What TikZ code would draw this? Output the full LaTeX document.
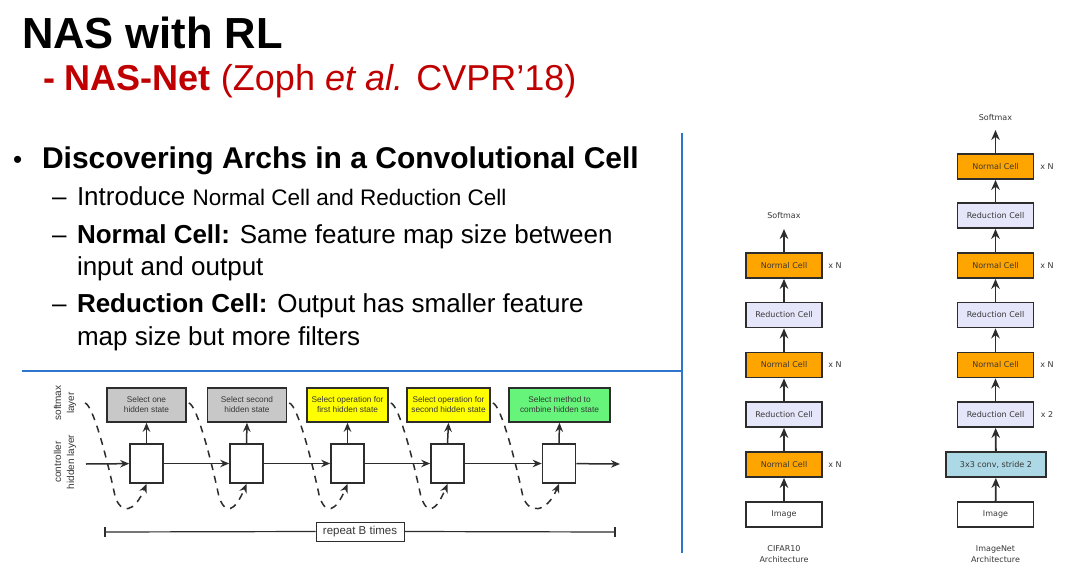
\documentclass[tikz,border=0pt]{standalone}
\usepackage{fontspec}
\setmainfont{Liberation Sans}
\newfontfamily\dejavu{DejaVu Sans}
\usetikzlibrary{arrows.meta,calc}
\definecolor{slideblue}{RGB}{46,117,204}
\definecolor{nasred}{RGB}{192,0,0}
\definecolor{boxgray}{RGB}{200,200,200}
\definecolor{boxyellow}{RGB}{255,255,0}
\definecolor{boxgreen}{RGB}{102,245,122}
\definecolor{normalorange}{RGB}{255,165,0}
\definecolor{redlav}{RGB}{230,230,250}
\definecolor{convblue}{RGB}{173,216,230}
\definecolor{darkline}{RGB}{45,45,45}
\definecolor{txtgray}{RGB}{55,55,55}
\begin{document}
\begin{tikzpicture}[x=1pt,y=-1pt,
  txt/.style={anchor=base west,inner sep=0pt,outer sep=0pt},
  topbox/.style={draw=darkline,line width=1.6pt,minimum height=34pt,inner sep=1pt,align=center,
     font=\fontsize{8.3}{10}\selectfont,text=txtgray},
  hidbox/.style={draw=darkline,line width=1.6pt,fill=white,minimum width=33pt,minimum height=39pt,inner sep=0pt},
  carr/.style={line width=1.5pt,draw=darkline,-{Stealth[length=9pt,width=7.5pt]}},
  dcurve/.style={line width=1.5pt,draw=darkline,dash pattern=on 7pt off 6pt,-{Stealth[length=9pt,width=7.5pt]}},
  rotlab/.style={rotate=90,align=center,font=\fontsize{10}{13}\selectfont,text=txtgray,inner sep=0pt},
  cell/.style={draw=darkline,line width=1.8pt,minimum width=76pt,minimum height=25pt,inner sep=0pt,
     font=\dejavu\fontsize{8}{9}\selectfont,text=txtgray},
  ncell/.style={cell,fill=normalorange},
  rcell/.style={cell,fill=redlav},
  icell/.style={cell,fill=white},
  rarr/.style={line width=1.8pt,draw=darkline,-{Stealth[length=10pt,width=8.5pt]}},
  small/.style={font=\dejavu\fontsize{8}{9}\selectfont,text=txtgray,inner sep=0pt},
  blueline/.style={draw=slideblue,line width=2.4pt}
]
\useasboundingbox[fill=white] (0,0) rectangle (1080,573);

% ---------- title and text ----------
\node[txt,font=\fontsize{43.5}{50}\selectfont\bfseries] (title) at (22,48) {NAS with RL};
\node[txt,text=nasred,font=\fontsize{36}{42}\selectfont] (subtitle) at (43,90)
  {\textbf{- NAS-Net} (Zoph \textit{et al.} CVPR’18)};

\node[txt,font=\fontsize{26}{30}\selectfont] (bul) at (13,168) {•};
\node[txt,font=\fontsize{30}{34}\selectfont\bfseries] (b1) at (42,168) {Discovering Archs in a Convolutional Cell};

\node[txt,font=\fontsize{26}{30}\selectfont] (d1) at (52,205) {–};
\node[txt,font=\fontsize{26}{30}\selectfont] (s1) at (77,205) {Introduce {\fontsize{22.5}{26}\selectfont Normal Cell and Reduction Cell}};
\node[txt,font=\fontsize{26}{30}\selectfont] (d2) at (52,243) {–};
\node[txt,font=\fontsize{26}{30}\selectfont] (s2) at (77,243) {\textbf{Normal Cell:} Same feature map size between};
\node[txt,font=\fontsize{26}{30}\selectfont] (s2b) at (77,275) {input and output};
\node[txt,font=\fontsize{26}{30}\selectfont] (d3) at (52,312) {–};
\node[txt,font=\fontsize{26}{30}\selectfont] (s3) at (77,312) {\textbf{Reduction Cell:} Output has smaller feature};
\node[txt,font=\fontsize{26}{30}\selectfont] (s3b) at (77,345) {map size but more filters};

% ---------- separator lines ----------
\coordinate (hl) at (22,371);
\coordinate (hr) at (682,371);
\coordinate (vt) at (682,133);
\coordinate (vb) at (682,553);
\draw[blueline] (hl) -- (hr);
\draw[blueline] (vt) -- (vb);

% ---------- controller RNN diagram ----------
\node[rotlab] (lab1) at (65,403) {softmax\\layer};
\node[rotlab] (lab2) at (65,462) {controller\\hidden layer};

\node[topbox,fill=boxgray,minimum width=79pt] (t1) at (146.5,405) {Select one\\hidden state};
\node[topbox,fill=boxgray,minimum width=79pt] (t2) at (247,405) {Select second\\hidden state};
\node[topbox,fill=boxyellow,minimum width=81pt] (t3) at (347.5,405) {Select operation for\\first hidden state};
\node[topbox,fill=boxyellow,minimum width=83pt] (t4) at (448.5,405) {Select operation for\\second hidden state};
\node[topbox,fill=boxgreen,minimum width=101pt] (t5) at (559.5,405) {Select method to\\combine hidden state};

\node[hidbox] (h1) at (146.5,463.5) {};
\node[hidbox] (h2) at (246.5,463.5) {};
\node[hidbox] (h3) at (347.5,463.5) {};
\node[hidbox] (h4) at (447.5,463.5) {};
\node[hidbox] (h5) at (559,463.5) {};

\coordinate (in) at (86,464);
\coordinate (out) at (620,464);
\draw[carr] (in) -- (h1);
\draw[carr] (h1) -- (h2);
\draw[carr] (h2) -- (h3);
\draw[carr] (h3) -- (h4);
\draw[carr] (h4) -- (h5);
\draw[carr] (h5) -- (out);

\foreach \i in {1,...,5} {
  \draw[carr] (h\i.north) -- (t\i.south);
}

% dashed feedback curves
\coordinate (s1) at (85,403);
\coordinate (s2) at ($(t1.east)+(2,-2)$);
\coordinate (s3) at ($(t2.east)+(2,-2)$);
\coordinate (s4) at ($(t3.east)+(2,-2)$);
\coordinate (s5) at ($(t4.east)+(2,-2)$);
\foreach \i in {1,...,5} {
  \draw[dcurve] let \p1=(s\i), \p2=(h\i.south) in
    (s\i) .. controls (\x1+8,\y1-2) and (\x1+22,\y1-55) .. (\x1+30,\y1-93)
          .. controls (\x1+36,\y1-112) and (\x2-12,\y2-29) .. (h\i.south);
}

% repeat B times
\coordinate (rl) at (105,532);
\coordinate (rr) at (615,532);
\node[draw=darkline,line width=1pt,fill=white,minimum width=88pt,minimum height=19pt,inner sep=0pt,
  font=\fontsize{11.5}{13}\selectfont,text=txtgray] (rep) at (360,531.5) {repeat B times};
\draw[line width=1.2pt,draw=darkline] (rl) -- (rep.west);
\draw[line width=1.2pt,draw=darkline] (rep.east) -- (rr);
\draw[line width=1.2pt,draw=darkline] ($(rl)+(0,-5)$) -- ($(rl)+(0,5)$);
\draw[line width=1.2pt,draw=darkline] ($(rr)+(0,-5)$) -- ($(rr)+(0,5)$);

% ---------- CIFAR10 architecture ----------
\node[icell] (cimg) at (784,514.5) {Image};
\node[ncell] (cn1) at (784,464.5) {Normal Cell};
\node[rcell] (cr1) at (784,414.5) {Reduction Cell};
\node[ncell] (cn2) at (784,365) {Normal Cell};
\node[rcell] (cr2) at (784,315) {Reduction Cell};
\node[ncell] (cn3) at (784,265.5) {Normal Cell};
\node[small] (csoft) at (784,216) {Softmax};
\coordinate (csoftb) at (784,229);
\draw[rarr] (cimg) -- (cn1);
\draw[rarr] (cn1) -- (cr1);
\draw[rarr] (cr1) -- (cn2);
\draw[rarr] (cn2) -- (cr2);
\draw[rarr] (cr2) -- (cn3);
\draw[rarr] (cn3) -- (csoftb);
\node[small] (cx1) at (835,265.5) {x N};
\node[small] (cx2) at (835,365) {x N};
\node[small] (cx3) at (835,464.5) {x N};
\node[small,align=center,font=\dejavu\fontsize{8}{10.5}\selectfont] (ccap) at (784,554) {CIFAR10\\Architecture};

% ---------- ImageNet architecture ----------
\node[icell] (iimg) at (995.5,514.5) {Image};
\node[cell,fill=convblue,minimum width=100pt] (iconv) at (996,464.5) {3x3 conv, stride 2};
\node[rcell] (ir1) at (995.5,414.5) {Reduction Cell};
\node[ncell] (in1) at (995.5,365) {Normal Cell};
\node[rcell] (ir2) at (995.5,315) {Reduction Cell};
\node[ncell] (in2) at (995.5,265.5) {Normal Cell};
\node[rcell] (ir3) at (995.5,215.5) {Reduction Cell};
\node[ncell] (in3) at (995.5,166.5) {Normal Cell};
\node[small] (isoft) at (995.5,118) {Softmax};
\coordinate (isoftb) at (995.5,130);
\draw[rarr] (iimg) -- (iconv);
\draw[rarr] (iconv) -- (ir1);
\draw[rarr] (ir1) -- (in1);
\draw[rarr] (in1) -- (ir2);
\draw[rarr] (ir2) -- (in2);
\draw[rarr] (in2) -- (ir3);
\draw[rarr] (ir3) -- (in3);
\draw[rarr] (in3) -- (isoftb);
\node[small] (ix1) at (1047,166.5) {x N};
\node[small] (ix2) at (1047,265.5) {x N};
\node[small] (ix3) at (1047,365) {x N};
\node[small] (ix4) at (1047,414.5) {x 2};
\node[small,align=center,font=\dejavu\fontsize{8}{10.5}\selectfont] (icap) at (995.5,554) {ImageNet\\Architecture};
\end{tikzpicture}
\end{document}
